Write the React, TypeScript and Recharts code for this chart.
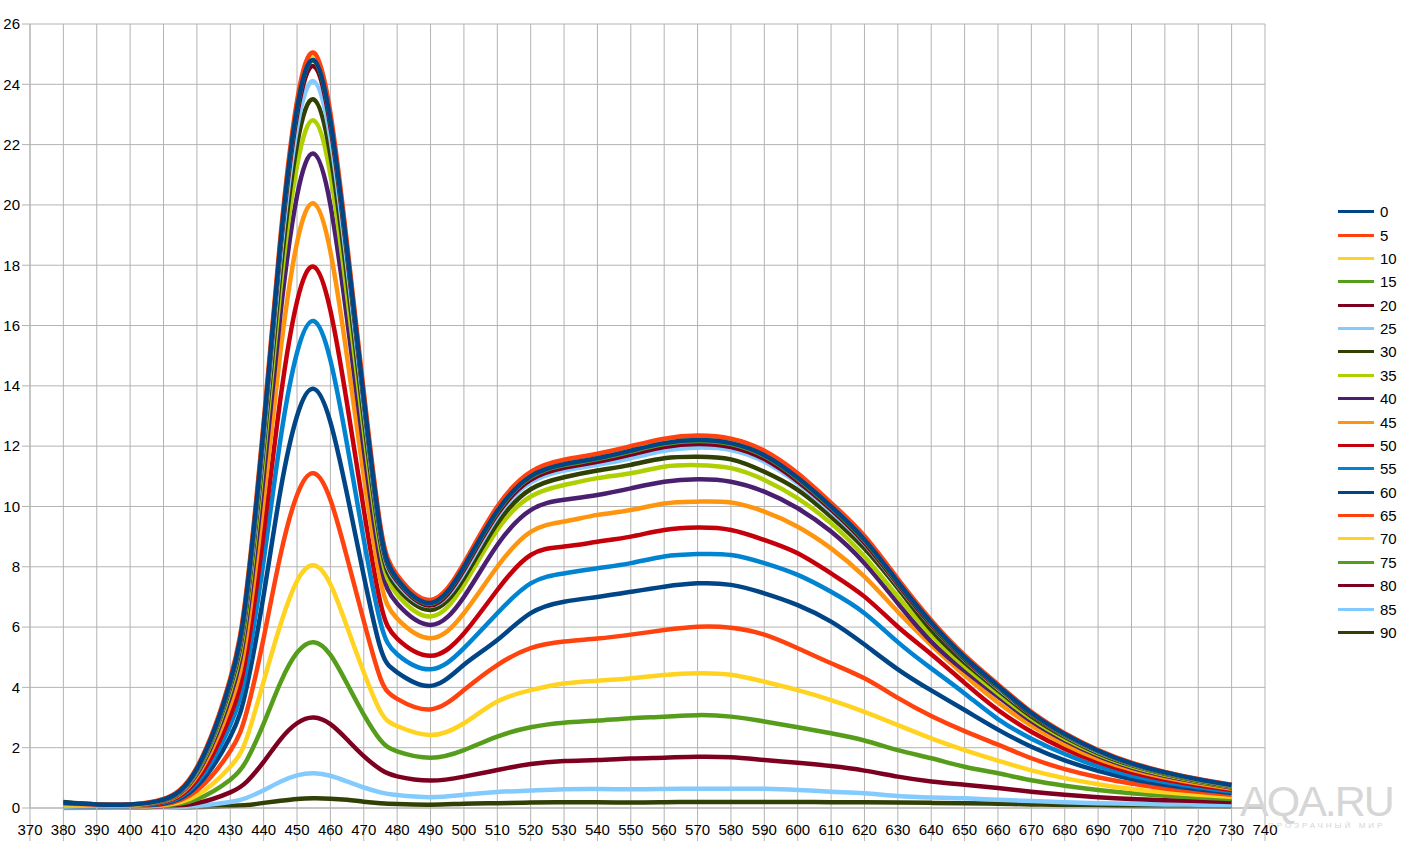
import { LineChart, Line, XAxis, YAxis, CartesianGrid } from "recharts";

// wavelength, nm
const X = [380, 390, 400, 410, 420, 430, 435, 440, 445, 450, 455, 460, 465, 470, 475, 480, 490, 500, 510, 520, 530, 540, 550, 560, 570, 580, 590, 600, 610, 620, 630, 640, 650, 660, 670, 680, 690, 700, 710, 720, 730];

const S0 = [0.18, 0.12, 0.12, 0.28, 1.3, 4.2, 7.2, 12.6, 18.7, 23.2, 24.8, 22.8, 18.5, 13.6, 9.2, 7.6, 6.8, 8.0, 9.85, 11.0, 11.4, 11.6, 11.85, 12.1, 12.2, 12.1, 11.7, 10.95, 10.0, 8.9, 7.5, 6.15, 5.0, 4.05, 3.15, 2.45, 1.9, 1.48, 1.18, 0.95, 0.76];
const S5 = [0.15, 0.12, 0.12, 0.3, 1.35, 4.3, 7.35, 12.8, 18.9, 23.45, 25.05, 23.05, 18.7, 13.8, 9.35, 7.72, 6.9, 8.12, 10.0, 11.15, 11.55, 11.75, 12.0, 12.25, 12.35, 12.25, 11.85, 11.1, 10.12, 9.02, 7.6, 6.23, 5.07, 4.1, 3.19, 2.48, 1.92, 1.5, 1.2, 0.96, 0.77];
const S10 = [0.12, 0.1, 0.1, 0.29, 1.32, 4.25, 7.28, 12.7, 18.8, 23.35, 24.95, 22.95, 18.6, 13.7, 9.28, 7.66, 6.85, 8.06, 9.92, 11.08, 11.48, 11.68, 11.92, 12.18, 12.28, 12.18, 11.78, 11.02, 10.06, 8.96, 7.55, 6.19, 5.03, 4.08, 3.17, 2.46, 1.91, 1.49, 1.19, 0.95, 0.76];
const S15 = [0.12, 0.1, 0.1, 0.28, 1.3, 4.2, 7.2, 12.6, 18.68, 23.18, 24.78, 22.78, 18.48, 13.58, 9.18, 7.58, 6.78, 7.98, 9.82, 10.97, 11.37, 11.57, 11.82, 12.07, 12.17, 12.07, 11.67, 10.92, 9.97, 8.87, 7.48, 6.13, 4.98, 4.03, 3.14, 2.44, 1.89, 1.47, 1.17, 0.94, 0.75];
const S20 = [0.15, 0.1, 0.1, 0.27, 1.28, 4.15, 7.12, 12.48, 18.52, 22.98, 24.6, 22.6, 18.33, 13.47, 9.1, 7.52, 6.72, 7.9, 9.74, 10.88, 11.28, 11.48, 11.72, 11.97, 12.07, 11.97, 11.57, 10.83, 9.9, 8.8, 7.42, 6.08, 4.94, 4.0, 3.11, 2.42, 1.88, 1.46, 1.16, 0.94, 0.75];
const S25 = [0.05, 0.08, 0.1, 0.27, 1.25, 4.1, 7.0, 12.25, 18.2, 22.55, 24.1, 22.2, 18.0, 13.25, 9.0, 7.45, 6.7, 7.8, 9.66, 10.79, 11.19, 11.38, 11.6, 11.85, 11.95, 11.87, 11.48, 10.76, 9.83, 8.76, 7.39, 6.06, 4.92, 3.97, 3.1, 2.4, 1.86, 1.45, 1.15, 0.93, 0.74];
const S30 = [0.2, 0.12, 0.12, 0.26, 1.22, 4.0, 6.8, 11.95, 17.7, 22.0, 23.5, 21.65, 17.55, 12.9, 8.8, 7.3, 6.57, 7.62, 9.44, 10.57, 10.97, 11.19, 11.38, 11.6, 11.65, 11.56, 11.15, 10.55, 9.66, 8.61, 7.29, 5.9, 4.82, 3.9, 3.04, 2.36, 1.82, 1.42, 1.13, 0.9, 0.72];
const S35 = [0.1, 0.1, 0.1, 0.25, 1.19, 3.88, 6.6, 11.6, 17.2, 21.3, 22.8, 21.0, 17.0, 12.5, 8.55, 7.08, 6.35, 7.4, 9.22, 10.33, 10.71, 10.94, 11.1, 11.32, 11.37, 11.27, 10.88, 10.27, 9.44, 8.34, 7.01, 5.74, 4.7, 3.8, 2.96, 2.3, 1.78, 1.38, 1.1, 0.88, 0.7];
const S40 = [0.1, 0.1, 0.1, 0.24, 1.13, 3.7, 6.3, 11.0, 16.35, 20.3, 21.7, 20.0, 16.2, 11.9, 8.15, 6.78, 6.07, 7.0, 8.72, 9.88, 10.22, 10.38, 10.6, 10.82, 10.9, 10.82, 10.49, 9.94, 9.17, 8.12, 6.79, 5.52, 4.55, 3.7, 2.88, 2.24, 1.73, 1.34, 1.07, 0.86, 0.68];
const S45 = [0.1, 0.08, 0.08, 0.22, 1.05, 3.42, 5.8, 10.2, 15.1, 18.75, 20.05, 18.45, 14.95, 11.0, 7.55, 6.28, 5.63, 6.46, 8.0, 9.16, 9.5, 9.72, 9.88, 10.1, 10.16, 10.13, 9.83, 9.33, 8.61, 7.67, 6.51, 5.4, 4.4, 3.5, 2.73, 2.11, 1.63, 1.27, 1.01, 0.81, 0.64];
const S50 = [0.08, 0.08, 0.08, 0.2, 0.93, 3.05, 5.2, 9.12, 13.55, 16.8, 17.95, 16.5, 13.4, 9.9, 6.8, 5.62, 5.05, 5.79, 7.23, 8.39, 8.67, 8.83, 9.0, 9.22, 9.3, 9.22, 8.89, 8.45, 7.78, 7.01, 6.01, 5.1, 4.15, 3.25, 2.53, 1.96, 1.52, 1.18, 0.94, 0.75, 0.6];
const S55 = [0.06, 0.06, 0.07, 0.18, 0.84, 2.75, 4.7, 8.2, 12.2, 15.1, 16.15, 14.85, 12.05, 8.9, 6.15, 5.1, 4.6, 5.3, 6.46, 7.45, 7.78, 7.95, 8.12, 8.34, 8.42, 8.39, 8.12, 7.73, 7.17, 6.46, 5.5, 4.63, 3.8, 2.95, 2.3, 1.79, 1.38, 1.08, 0.86, 0.69, 0.55];
const S60 = [0.05, 0.05, 0.06, 0.15, 0.72, 2.36, 4.05, 7.06, 10.5, 13.0, 13.9, 12.8, 10.4, 7.7, 5.3, 4.5, 4.05, 4.75, 5.57, 6.46, 6.84, 7.0, 7.17, 7.34, 7.45, 7.4, 7.12, 6.73, 6.18, 5.42, 4.6, 3.9, 3.25, 2.6, 2.03, 1.58, 1.23, 0.96, 0.77, 0.62, 0.5];
const S65 = [0.05, 0.05, 0.05, 0.12, 0.58, 1.89, 3.22, 5.64, 8.37, 10.38, 11.1, 10.22, 8.3, 6.2, 4.3, 3.62, 3.27, 3.91, 4.74, 5.3, 5.52, 5.62, 5.75, 5.9, 6.01, 5.98, 5.75, 5.3, 4.8, 4.3, 3.65, 3.05, 2.55, 2.1, 1.65, 1.29, 1.02, 0.81, 0.65, 0.54, 0.44];
const S70 = [0.05, 0.04, 0.04, 0.1, 0.42, 1.37, 2.34, 4.2, 6.07, 7.53, 8.05, 7.42, 6.0, 4.5, 3.2, 2.72, 2.42, 2.81, 3.53, 3.91, 4.13, 4.22, 4.3, 4.41, 4.47, 4.42, 4.19, 3.91, 3.58, 3.19, 2.75, 2.31, 1.92, 1.57, 1.25, 0.99, 0.79, 0.63, 0.52, 0.44, 0.37];
const S75 = [0.04, 0.04, 0.04, 0.08, 0.29, 0.94, 1.6, 2.8, 4.15, 5.15, 5.5, 5.08, 4.12, 3.1, 2.25, 1.88, 1.67, 1.92, 2.37, 2.68, 2.83, 2.9, 2.98, 3.03, 3.08, 3.03, 2.87, 2.68, 2.48, 2.24, 1.92, 1.65, 1.37, 1.15, 0.92, 0.74, 0.6, 0.49, 0.41, 0.35, 0.3];
const S80 = [0.03, 0.03, 0.03, 0.05, 0.16, 0.52, 0.88, 1.53, 2.27, 2.81, 3.0, 2.78, 2.27, 1.72, 1.28, 1.05, 0.91, 1.04, 1.26, 1.46, 1.56, 1.59, 1.64, 1.67, 1.7, 1.68, 1.59, 1.5, 1.39, 1.24, 1.04, 0.88, 0.77, 0.66, 0.54, 0.44, 0.36, 0.3, 0.26, 0.23, 0.2];
const S85 = [0, 0.01, 0.01, 0.02, 0.07, 0.2, 0.34, 0.59, 0.87, 1.08, 1.15, 1.07, 0.88, 0.68, 0.52, 0.43, 0.36, 0.44, 0.53, 0.58, 0.62, 0.63, 0.62, 0.63, 0.64, 0.64, 0.64, 0.6, 0.54, 0.49, 0.4, 0.35, 0.32, 0.27, 0.23, 0.19, 0.16, 0.14, 0.12, 0.11, 0.1];
const S90 = [0.15, 0.1, 0.06, 0.04, 0.03, 0.07, 0.1, 0.17, 0.24, 0.3, 0.32, 0.31, 0.27, 0.21, 0.16, 0.13, 0.11, 0.14, 0.16, 0.18, 0.19, 0.19, 0.18, 0.19, 0.2, 0.2, 0.2, 0.2, 0.19, 0.19, 0.18, 0.17, 0.16, 0.14, 0.12, 0.1, 0.09, 0.07, 0.06, 0.06, 0.05];

const NAMES = ["0", "5", "10", "15", "20", "25", "30", "35", "40", "45", "50", "55", "60", "65", "70", "75", "80", "85", "90"];
const VALUES = [S0, S5, S10, S15, S20, S25, S30, S35, S40, S45, S50, S55, S60, S65, S70, S75, S80, S85, S90];
const COLORS = [
  "#004586", "#ff420e", "#ffd320", "#579d1c", "#7e0021", "#83caff", "#314004",
  "#aecf00", "#4b1f6f", "#ff950e", "#c5000b", "#0084d1",
  "#004586", "#ff420e", "#ffd320", "#579d1c", "#7e0021", "#83caff", "#314004",
];

const X_TICKS = [370, 380, 390, 400, 410, 420, 430, 440, 450, 460, 470, 480, 490, 500, 510, 520, 530, 540, 550, 560, 570, 580, 590, 600, 610, 620, 630, 640, 650, 660, 670, 680, 690, 700, 710, 720, 730, 740];
const Y_TICKS = [0, 2, 4, 6, 8, 10, 12, 14, 16, 18, 20, 22, 24, 26];

const GRID = "#b3b3b3";
const FONT = "'Liberation Sans', Arial, sans-serif";

const data = X.map((x, i) => {
  const row: any = { x };
  NAMES.forEach((n, k) => {
    row["s" + n] = VALUES[k][i];
  });
  return row;
});

const XTick = ({ x, y, payload }: any) => (
  <g>
    <line x1={x} x2={x} y1={y} y2={y + 33} stroke={GRID} />
    <text x={x} y={y + 27} textAnchor="middle" fontSize={15} fill="#000" fontFamily={FONT}>
      {payload.value}
    </text>
  </g>
);

export default function App() {
  return (
    <div style={{ position: "absolute", left: 0, top: 0, width: 1401, height: 841, background: "#fff", fontFamily: FONT }}>
      <LineChart width={1401} height={841} data={data} margin={{ top: 24, right: 136, bottom: 0, left: 0 }}>
        <CartesianGrid stroke={GRID} />
        <XAxis
          dataKey="x"
          type="number"
          domain={[370, 740]}
          ticks={X_TICKS}
          interval={0}
          height={33}
          tickSize={0}
          tickMargin={0}
          tickLine={false}
          axisLine={{ stroke: GRID }}
          tick={<XTick />}
        />
        <YAxis
          type="number"
          domain={[0, 26]}
          ticks={Y_TICKS}
          interval={0}
          width={30}
          tickSize={8}
          tickMargin={2}
          tickLine={{ stroke: GRID }}
          axisLine={{ stroke: GRID }}
          tick={{ fontSize: 15, fill: "#000", fontFamily: FONT }}
        />
        {/* later angles drawn first so the 0° curve sits on top */}
        {NAMES.map((n, k) => k)
          .reverse()
          .map((k) => (
            <Line
              key={NAMES[k]}
              dataKey={"s" + NAMES[k]}
              name={NAMES[k]}
              type="natural"
              stroke={COLORS[k]}
              strokeWidth={4.5}
              dot={false}
              isAnimationActive={false}
            />
          ))}
      </LineChart>

      <div style={{ position: "absolute", left: 1338, top: 200 }}>
        {NAMES.map((n, k) => (
          <div key={n} style={{ height: 23.39, display: "flex", alignItems: "center" }}>
            <div style={{ width: 36, height: 3, background: COLORS[k] }} />
            <span style={{ marginLeft: 6, fontSize: 15, color: "#000" }}>{n}</span>
          </div>
        ))}
      </div>

      <div style={{ position: "absolute", left: 1240, top: 776, color: "#d6d6d6", fontSize: 43, letterSpacing: -2, lineHeight: "50px", whiteSpace: "nowrap", pointerEvents: "none" }}>
        AQA.RU
      </div>
      <div style={{ position: "absolute", left: 1268, top: 821, color: "#d6d6d6", fontSize: 8, letterSpacing: 3, lineHeight: "10px", whiteSpace: "nowrap", pointerEvents: "none" }}>
        ПРОЗРАЧНЫЙ МИР
      </div>
    </div>
  );
}
